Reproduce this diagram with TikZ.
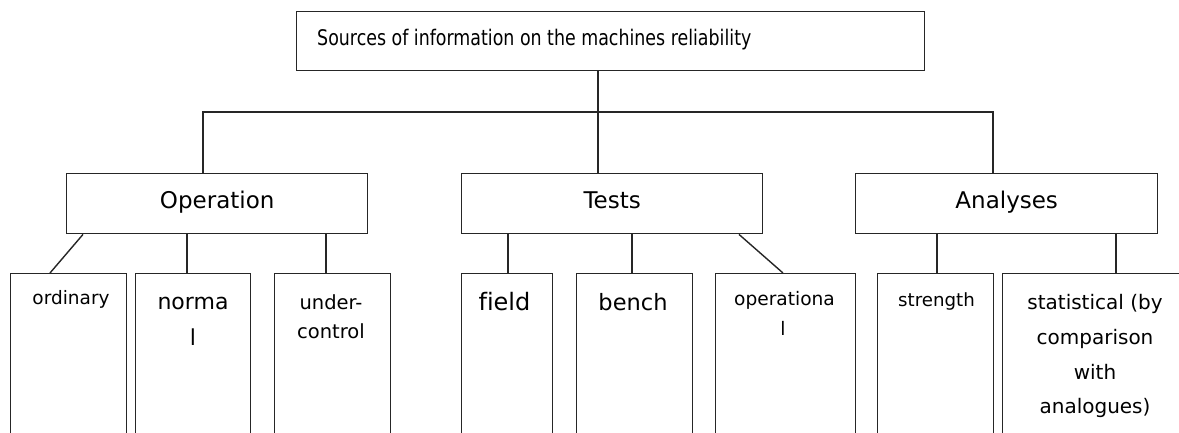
\documentclass[tikz,border=0pt]{standalone}
\usepackage{fontspec}
\setmainfont[Ligatures=NoCommon]{DejaVu Sans}
\newfontfamily\narrowsans[FakeStretch=0.81,Ligatures=NoCommon]{DejaVu Sans}
\newcommand\fsz[1]{\fontsize{#1}{#1}\selectfont}
\begin{document}
\begin{tikzpicture}[x=1pt,y=-1pt,
  box/.style={draw=black!85, line width=1.4pt, inner sep=0pt, anchor=north west},
  midbox/.style={box, minimum width=301pt, minimum height=60pt, text height=16pt, text depth=7pt, font=\fsz{23}},
  leaf/.style={box, minimum height=172pt},
  conn/.style={draw=black!85, line width=1.4pt},
  txt/.style={inner sep=0pt, anchor=base}]
\useasboundingbox (0,0) rectangle (1179,432);
\clip (0,0) rectangle (1179,432);

% top box
\node[box, minimum width=628pt, minimum height=59pt] (top) at (296,11) {};
\node[txt, anchor=base west, font=\narrowsans\fsz{21.5}] (toptext) at (317,45) {Sources of information on the machines reliability};

% middle boxes
\node[midbox] (op) at (66,173) {Operation};
\node[midbox] (te) at (461,173) {Tests};
\node[midbox, minimum width=302pt] (an) at (855,173) {Analyses};

% leaf boxes
\node[leaf, minimum width=116pt] (ord) at (10,273) {};
\node[leaf, minimum width=115pt] (nor) at (135,273) {};
\node[leaf, minimum width=116pt] (uc) at (274,273) {};
\node[leaf, minimum width=91pt] (fi) at (461,273) {};
\node[leaf, minimum width=116pt] (be) at (576,273) {};
\node[leaf, minimum width=140pt] (opl) at (715,273) {};
\node[leaf, minimum width=116pt] (st) at (877,273) {};
\node[leaf, minimum width=186pt] (sta) at (1002,273) {};

% leaf texts
\node[txt, font=\fsz{18.5}] (tord) at (71,304) {ordinary};
\node[txt, font=\fsz{22}] (tnor1) at (193,309) {norma};
\node[txt, font=\fsz{22}] (tnor2) at (193,345) {l};
\node[txt, font=\fsz{19.5}] (tuc1) at (331,309) {under-};
\node[txt, font=\fsz{19.5}] (tuc2) at (331,338) {control};
\node[txt, font=\fsz{24}] (tfi) at (504.5,310) {field};
\node[txt, font=\fsz{22.5}] (tbe) at (633,310) {bench};
\node[txt, font=\fsz{18.6}] (topl1) at (784.5,305) {operationa};
\node[txt, font=\fsz{18.6}] (topl2) at (783,335) {l};
\node[txt, font=\fsz{18.2}] (tst) at (936.5,306) {strength};
\node[txt, font=\fsz{20}] (tsta1) at (1095,309) {statistical (by};
\node[txt, font=\fsz{20}] (tsta2) at (1095,344) {comparison};
\node[txt, font=\fsz{20}] (tsta3) at (1095,379) {with};
\node[txt, font=\fsz{20}] (tsta4) at (1095,413) {analogues)};

% connectors top level
\coordinate (j) at (598,112);
\coordinate (jo) at (203,112);
\coordinate (ja) at (993,112);
\draw[conn] (top.south -| j) -- (j);
\draw[conn] (op.north -| jo) -- (jo) -- (ja) -- (an.north -| ja);
\draw[conn] (j) -- (te.north -| j);

% connectors to leaves
\draw[conn] ([xshift=17pt]op.south west) -- ([xshift=40pt]ord.north west);
\draw[conn] ([xshift=121pt]op.south west) -- ([xshift=52pt]nor.north west);
\draw[conn] ([xshift=260pt]op.south west) -- ([xshift=52pt]uc.north west);
\draw[conn] ([xshift=47pt]te.south west) -- ([xshift=47pt]fi.north west);
\draw[conn] ([xshift=171pt]te.south west) -- ([xshift=56pt]be.north west);
\draw[conn] ([xshift=278pt]te.south west) -- ([xshift=68pt]opl.north west);
\draw[conn] ([xshift=82pt]an.south west) -- ([xshift=60pt]st.north west);
\draw[conn] ([xshift=261pt]an.south west) -- ([xshift=114pt]sta.north west);
\end{tikzpicture}
\end{document}
